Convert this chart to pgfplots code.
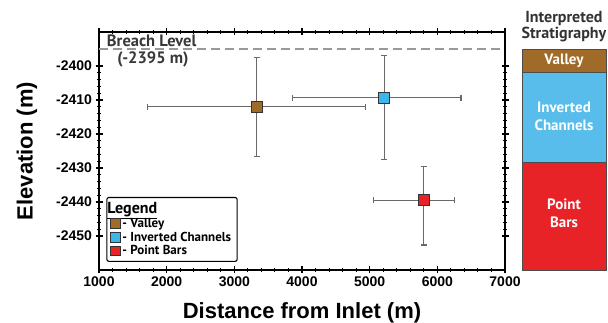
\documentclass[border=0pt]{standalone}
\usepackage{pgfplots}
\pgfplotsset{compat=1.18}
\usepackage{fontspec}
\setmainfont{Liberation Sans}
\newfontfamily\ptsans{PT Sans}
\definecolor{valley}{RGB}{160,106,40}
\definecolor{invch}{RGB}{88,189,235}
\definecolor{invmk}{RGB}{60,182,233}
\definecolor{pbars}{RGB}{232,35,40}
\definecolor{ebar}{RGB}{105,105,105}
\begin{document}
\begin{tikzpicture}
\useasboundingbox (0,0) rectangle (608pt,323pt);
\begin{axis}[
  at={(99pt,53pt)}, anchor=south west,
  width=406pt, height=238pt, scale only axis,
  xmin=1000, xmax=7000, ymin=-2460, ymax=-2390,
  xtick={1000,2000,...,7000}, ytick={-2450,-2440,...,-2400},
  minor x tick num=4, minor y tick num=4,
  tick align=center,
  axis line style={line width=1.6pt},
  major tick length=7pt, minor tick length=4pt,
  every tick/.style={black, line width=1.1pt},
  scaled ticks=false,
  /pgf/number format/assume math mode=true,
  /pgf/number format/1000 sep={},
  tick label style={font=\bfseries\fontsize{14}{15}\selectfont},
  xlabel={Distance from Inlet (m)},
  ylabel={Elevation (m)},
  label style={font=\bfseries\fontsize{22}{24}\selectfont},
  xlabel style={yshift=-9pt},
  ylabel style={yshift=12pt},
  clip=false,
  legend style={at={(0.018,0.034)}, anchor=south west, draw=black, line width=1.1pt,
    rounded corners=2pt, font=\ptsans\bfseries\fontsize{13}{14}\selectfont,
    row sep=-1pt, inner xsep=4pt, inner ysep=3pt},
  legend cell align=left,
  legend image code/.code={\draw[#1, mark size=4.8pt] plot coordinates {(0.17cm,0cm)};},
]
\addlegendimage{empty legend}
\addlegendentry{\hspace{-15pt}\fontsize{16}{17}\selectfont\underline{Legend}\rule[-4pt]{0pt}{4pt}}

\addplot[gray!80, line width=1.3pt, dash pattern=on 9pt off 5pt, forget plot]
  coordinates {(1000,-2395) (7000,-2395)};

\addplot[draw=none, forget plot, error bars/.cd, x dir=both, x explicit, y dir=both, y explicit,
  error bar style={color=ebar, line width=1.1pt},
  error mark options={rotate=90, mark size=3pt, line width=1.1pt, color=ebar}]
  coordinates {
  (3330,-2412) += (1610,14.4) -= (1610,14.5)
  (5215,-2409.3) += (1135,12.45) -= (1350,18.1)
  (5797,-2439.5) += (459,10) -= (739,13.15)
  };

\addplot[only marks, mark=square*, mark size=5.5pt,
  mark options={fill=valley, draw=black!80, line width=0.8pt}]
  coordinates {(3330,-2412)};
\addlegendentry{- Valley}
\addplot[only marks, mark=square*, mark size=5.5pt,
  mark options={fill=invmk, draw=black!80, line width=0.8pt}]
  coordinates {(5215,-2409.3)};
\addlegendentry{- Inverted Channels}
\addplot[only marks, mark=square*, mark size=5.5pt,
  mark options={fill=pbars, draw=black!80, line width=0.8pt}]
  coordinates {(5797,-2439.5)};
\addlegendentry{- Point Bars}

\node[anchor=base west, inner sep=0pt, font=\ptsans\bfseries\fontsize{16.5}{18}\selectfont, text=black!78]
  at (axis cs:1115,-2394.3) {Breach Level};
\node[anchor=base west, inner sep=0pt, font=\ptsans\bfseries\fontsize{16.5}{18}\selectfont, text=black!78]
  at (axis cs:1270,-2399.3) {(-2395 m)};
\end{axis}

\begin{axis}[
  at={(522pt,53pt)}, anchor=south west,
  width=84pt, height=238pt, scale only axis,
  xmin=0, xmax=1, ymin=-2460, ymax=-2390,
  hide axis, clip=false,
]
\addplot[fill=valley, draw=black!70, line width=0.8pt]
  coordinates {(0,-2395) (1,-2395) (1,-2402) (0,-2402)} -- cycle;
\addplot[fill=invch, draw=black!70, line width=0.8pt]
  coordinates {(0,-2402) (1,-2402) (1,-2428.5) (0,-2428.5)} -- cycle;
\addplot[fill=pbars, draw=black!70, line width=0.8pt]
  coordinates {(0,-2428.5) (1,-2428.5) (1,-2460) (0,-2460)} -- cycle;
\node[font=\ptsans\bfseries\fontsize{15}{17}\selectfont, text=white]
  at (axis cs:0.5,-2398.5) {Valley};
\node[font=\ptsans\bfseries\fontsize{15}{17.5}\selectfont, text=white, align=center]
  at (axis cs:0.5,-2414.8) {Inverted\\Channels};
\node[font=\ptsans\bfseries\fontsize{15}{17.5}\selectfont, text=white, align=center]
  at (axis cs:0.5,-2443.3) {Point\\Bars};
\node[font=\ptsans\bfseries\fontsize{16}{16.5}\selectfont, text=black!80, align=center]
  at (axis cs:0.5,-2388.4) {Interpreted\\Stratigraphy};
\end{axis}
\end{tikzpicture}
\end{document}
